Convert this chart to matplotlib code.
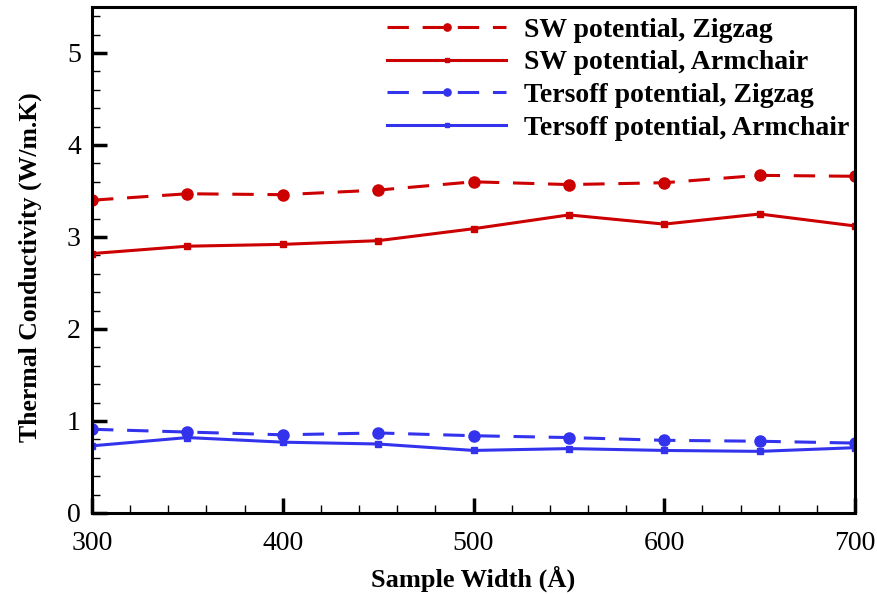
import matplotlib
matplotlib.use("Agg")
import matplotlib.pyplot as plt
from matplotlib.ticker import MultipleLocator

width = [300, 350, 400, 450, 500, 550, 600, 650, 700]
sw_zigzag = [3.40, 3.47, 3.46, 3.51, 3.60, 3.57, 3.59, 3.67, 3.66]
sw_armchair = [2.82, 2.90, 2.92, 2.96, 3.09, 3.24, 3.14, 3.25, 3.12]
tersoff_zigzag = [0.91, 0.88, 0.85, 0.87, 0.84, 0.82, 0.79, 0.78, 0.76]
tersoff_armchair = [0.73, 0.82, 0.77, 0.75, 0.68, 0.70, 0.68, 0.67, 0.71]

labels = ["SW potential, Zigzag", "SW potential, Armchair",
          "Tersoff potential, Zigzag", "Tersoff potential, Armchair"]

plt.rcParams['font.family'] = ['Liberation Serif', 'DejaVu Serif']

red = '#cc0000'
blue = '#3333ee'
dash = (0, (7, 4.5))

fig = plt.figure(figsize=(8.78, 5.94), dpi=100)
ax = fig.add_axes([92 / 878, 81 / 594, 763 / 878, 506 / 594])

ax.plot(width, sw_zigzag, color=red, ls=dash, lw=2.2, marker='o', ms=8, label=labels[0])
ax.plot(width, sw_armchair, color=red, ls='-', lw=2.2, marker='s', ms=5, label=labels[1])
ax.plot(width, tersoff_zigzag, color=blue, ls=dash, lw=2.2, marker='o', ms=8, label=labels[2])
ax.plot(width, tersoff_armchair, color=blue, ls='-', lw=2.2, marker='s', ms=5, label=labels[3])

ax.set_xlim(300, 700)
ax.set_ylim(0, 5.5)
ax.xaxis.set_major_locator(MultipleLocator(100))
ax.xaxis.set_minor_locator(MultipleLocator(20))
ax.yaxis.set_major_locator(MultipleLocator(1))
ax.yaxis.set_minor_locator(MultipleLocator(0.2))
ax.tick_params(which='major', direction='in', length=11, width=2.5, labelsize=20)
ax.tick_params(axis='x', which='major', pad=13)
ax.tick_params(axis='y', which='major', pad=8)
ax.tick_params(which='minor', direction='in', length=6, width=1)
ax.tick_params(top=False, right=False, which='both')
for s in ax.spines.values():
    s.set_linewidth(2.2)

ax.set_xlabel("Sample Width (Å)", fontsize=19, fontweight='bold', labelpad=7)
ax.set_ylabel("Thermal Conductivity (W/m.K)", fontsize=18.5, fontweight='bold')
ax.yaxis.set_label_coords(-0.066, 0.486)

leg = ax.legend(loc='upper right', bbox_to_anchor=(1.004, 0.996), frameon=False,
                prop={'size': 20, 'weight': 'bold'}, handlelength=4.3, numpoints=1,
                labelspacing=0.26, handletextpad=0.65, borderaxespad=0.0,
                borderpad=0.3, markerscale=0.65)

fig.savefig("out.png", dpi=100)
